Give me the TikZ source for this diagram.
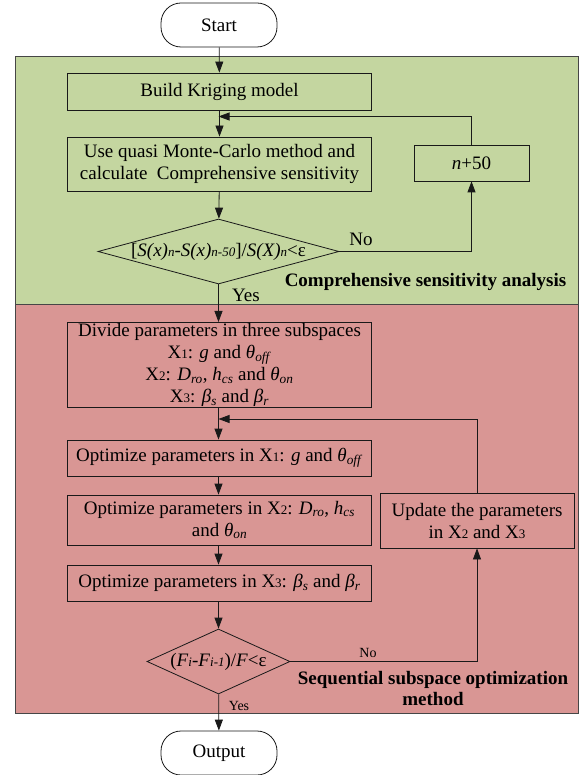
\documentclass[tikz,border=0pt]{standalone}
\usepackage{fontspec}
\setmainfont{Liberation Serif}
\usepackage{tikz}
\usetikzlibrary{
arrows.meta,
positioning,
shapes.geometric,
backgrounds
}
\definecolor{csagreen}{RGB}{196,214,160}
\definecolor{ssored}{RGB}{217,150,148}
\definecolor{panelgray}{RGB}{70,70,70}
\definecolor{lineblack}{RGB}{25,25,25}

\newcommand{\lo}[1]{{\fontsize{13}{13}\selectfont #1}}

\begin{document}
\begin{tikzpicture}[
  x=1pt, y=-1pt,
  >={Triangle[length=11pt, width=8pt]},
  every node/.style={font=\fontsize{19}{22}\selectfont},
  flow/.style={->, line width=0.8pt, lineblack},
  box/.style={
    draw=lineblack, line width=0.8pt,
    minimum width=304pt, align=center, inner sep=1pt
  },
  sidebox/.style={
    draw=lineblack, line width=0.8pt, align=center, inner sep=1pt
  },
  term/.style={
    draw=lineblack, line width=0.8pt, rounded corners=20pt,
    minimum width=116pt, minimum height=44pt, fill=white
  },
  decision/.style={
    draw=lineblack, line width=0.8pt, diamond, inner sep=0pt
  },
  small/.style={font=\fontsize{14}{16}\selectfont}
]
\useasboundingbox (0,0) rectangle (585,775);

%% ============================================================
%%  BACKGROUND PANELS
%% ============================================================
\begin{scope}[on background layer]
  \filldraw[fill=csagreen, draw=panelgray, line width=1pt]
    (15,57) rectangle (578,304);
  \filldraw[fill=ssored, draw=panelgray, line width=1pt]
    (15,304) rectangle (578,713);
\end{scope}

%% ============================================================
%%  START
%% ============================================================
\node[term] (start) at (219,25) {Start};

%% ============================================================
%%  COMPREHENSIVE SENSITIVITY ANALYSIS
%% ============================================================
\node[box, minimum height=37pt] (build) at (219.5,91.5)
  {Build Kriging model};

\node[box, minimum height=54pt] (quasi) at (219.5,164)
  {Use quasi Monte-Carlo method and\\
   calculate\ \ Comprehensive sensitivity};

\node[decision, minimum width=241pt, minimum height=65pt] (dec1)
  at (218.5,251.5)
  {\makebox[0pt]{[\textit{S(x)}\lo{\textit{n}}-\textit{S(x)}\lo{\textit{n-50}}]/\textit{S(X)}\lo{\textit{n}}<ε}};

\node[sidebox, minimum width=115pt, minimum height=36pt] (plus)
  at (471.5,163) {\textit{n}+50};

\coordinate (j1) at (218.5,116.5);

\node (no1) at (361,239) {No};
\node (yes1) at (246,295) {Yes};
\node[font=\fontsize{19}{22}\selectfont\bfseries] (csa) at (425.5,282)
  {Comprehensive sensitivity analysis};

%% Arrows
\draw[flow] (start) -- (build);
\draw[flow] (build) -- (quasi);
\draw[flow] (plus.north) |- (j1);
\draw[flow] (quasi) -- (dec1);
\draw[flow] (dec1.east) -| (plus.south);

%% ============================================================
%%  SEQUENTIAL SUBSPACE OPTIMIZATION
%% ============================================================
\node[box, minimum height=84pt] (divide) at (219.5,365)
  {Divide parameters in three subspaces\\
   X\lo{1}: \textit{g} and \textit{θ}\textsubscript{\textit{off}}\\
   X\lo{2}: \textit{D}\textsubscript{\textit{ro}}, \textit{h}\textsubscript{\textit{cs}} and \textit{θ}\textsubscript{\textit{on}}\\
   X\lo{3}: \textit{β}\textsubscript{\textit{s}} and \textit{β}\textsubscript{\textit{r}}};

\coordinate (j2) at (218.5,419);

\node[box, minimum height=36pt] (opt1) at (219.5,458)
  {Optimize parameters in X\lo{1}: \textit{g} and \textit{θ}\textsubscript{\textit{off}}};

\node[box, minimum height=50pt] (opt2) at (219.5,520)
  {Optimize parameters in X\lo{2}: \textit{D}\textsubscript{\textit{ro}}, \textit{h}\textsubscript{\textit{cs}}\\
   and \textit{θ}\textsubscript{\textit{on}}};

\node[box, minimum height=36pt] (opt3) at (219.5,583)
  {Optimize parameters in X\lo{3}: \textit{β}\textsubscript{\textit{s}} and \textit{β}\textsubscript{\textit{r}}};

\node[decision, minimum width=143pt, minimum height=65pt] (dec2)
  at (218.5,661.5)
  {\makebox[0pt]{(\textit{F}\lo{\textit{i}}-\textit{F}\lo{\textit{i-1}})/\textit{F}<ε}};

\node[sidebox, minimum width=194pt, minimum height=55pt] (update)
  at (477,520.5)
  {Update the parameters\\ in X\lo{2} and X\lo{3}};

\node[small] (no2) at (368,653) {No};
\node[small] (yes2) at (239,706) {Yes};
\node[font=\fontsize{19}{21}\selectfont\bfseries, align=center] (sso)
  at (433,688.5) {Sequential subspace optimization\\method};

%% Arrows
\draw[flow] (dec1.south) -- (divide.north -| dec1.south);
\draw[flow] (divide.south -| j2) -- (opt1.north -| j2);
\draw[flow] (update.north) |- (j2);
\draw[flow] (opt1.south -| j2) -- (opt2.north -| j2);
\draw[flow] (opt2.south -| j2) -- (opt3.north -| j2);
\draw[flow] (opt3.south -| j2) -- (dec2);
\draw[flow] (dec2.east) -| (update.south);

%% ============================================================
%%  OUTPUT
%% ============================================================
\node[term] (output) at (219,753) {Output};
\draw[flow] (dec2) -- (output);

\end{tikzpicture}
\end{document}
